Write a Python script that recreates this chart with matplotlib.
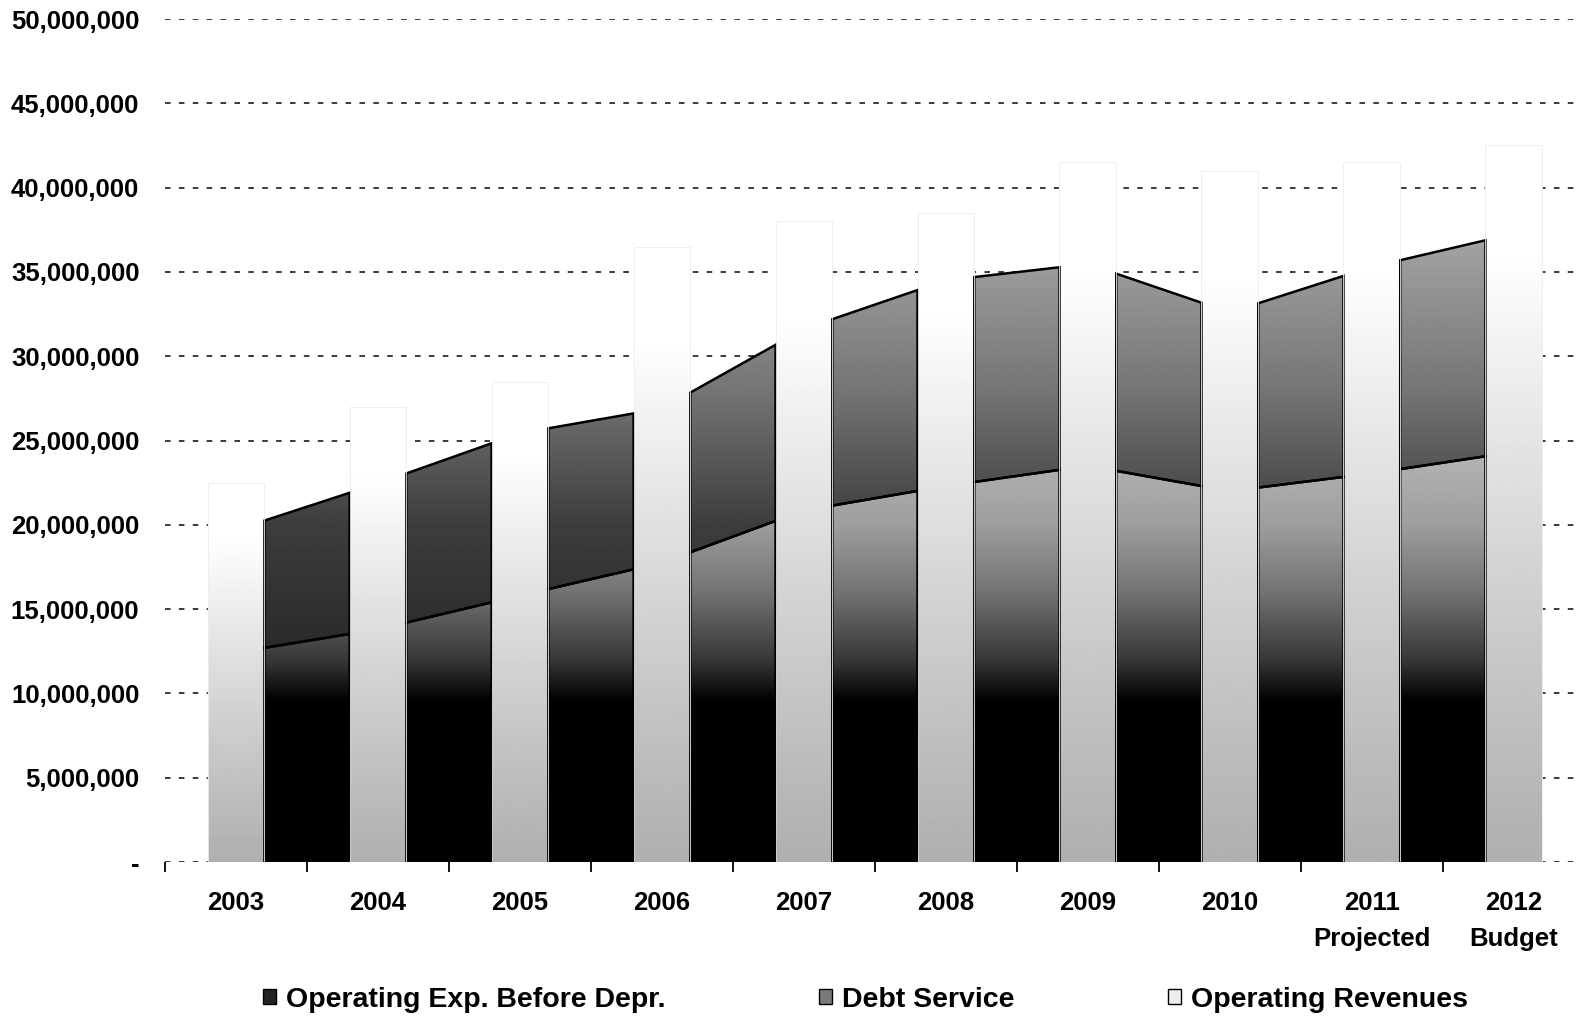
"""
Operating revenues vs. operating expenses and debt service, 2003-2012.
Expense layers are drawn in the gaps between the revenue columns,
all fills use vertical grey gradients.
"""

import numpy as np
import matplotlib
matplotlib.use("Agg")
import matplotlib.pyplot as plt
from matplotlib.patches import Polygon, Patch
from matplotlib.ticker import FixedLocator, FuncFormatter

# ══════════════════════════════════════════════════════════════════
#  DATA
# ══════════════════════════════════════════════════════════════════

YEAR_LABELS = ["2003", "2004", "2005", "2006", "2007", "2008", "2009",
               "2010", "2011\nProjected", "2012\nBudget"]

OPEX_BEFORE_DEPR = [12_430_000, 13_800_000, 15_800_000, 17_750_000, 20_850_000,
                    22_300_000, 23_500_000, 22_000_000, 23_050_000, 24_320_000]
DEBT_SERVICE     = [7_270_000, 8_650_000, 9_630_000, 9_150_000, 10_770_000,
                    12_200_000, 11_970_000, 10_600_000, 12_250_000, 12_950_000]
OPER_REVENUES    = [22_500_000, 27_000_000, 28_500_000, 36_500_000, 38_000_000,
                    38_500_000, 41_500_000, 41_000_000, 41_500_000, 42_500_000]

Y_TICKS = list(range(0, 50_000_001, 5_000_000))

# ══════════════════════════════════════════════════════════════════
#  STYLE
# ══════════════════════════════════════════════════════════════════

plt.rcParams["font.family"] = ["Liberation Sans", "DejaVu Sans"]
plt.rcParams["font.weight"] = "bold"
plt.rcParams["lines.scale_dashes"] = False

BAR_W     = 0.4
FS_TICK   = 18.5
FS_LEGEND = 20.5


def grey_opex(v):
    # black up to ~9.5M, then lightening towards the top of the layer
    return np.interp(v, [0, 9.5e6, 12e6, 16e6, 20e6, 25e6],
                     [0.0, 0.0, 0.22, 0.45, 0.62, 0.72])


def grey_debt(v):
    return np.interp(v, [10e6, 20e6, 28e6, 38e6],
                     [0.14, 0.24, 0.46, 0.66])


fig = plt.figure(figsize=(15.81, 10.17), dpi=100, facecolor="white")
ax = fig.add_axes([0.1044, 0.1524, 0.898, 0.8289])

x = np.arange(len(YEAR_LABELS))
opex = np.array(OPEX_BEFORE_DEPR, dtype=float)
total = opex + np.array(DEBT_SERVICE, dtype=float)

# gradient fields over the whole plot, clipped to each shape later
gy = np.linspace(0, 50e6, 600)
field_opex = np.tile(grey_opex(gy)[:, None], (1, 2))
field_debt = np.tile(grey_debt(gy)[:, None], (1, 2))
EXTENT = (-0.5, 9.5, 0, 50e6)

# ══════════════════════════════════════════════════════════════════
#  EXPENSE LAYERS (between the revenue columns)
# ══════════════════════════════════════════════════════════════════

for i in range(len(x) - 1):
    xs = np.array([x[i] + BAR_W / 2, x[i + 1] - BAR_W / 2])
    op = np.interp(xs, x, opex)
    tt = np.interp(xs, x, total)

    layers = [
        (Polygon([(xs[0], 0), (xs[1], 0), (xs[1], op[1]), (xs[0], op[0])]), field_opex),
        (Polygon([(xs[0], op[0]), (xs[1], op[1]), (xs[1], tt[1]), (xs[0], tt[0])]), field_debt),
    ]
    for poly, field in layers:
        poly.set_facecolor("none")
        poly.set_edgecolor("black")
        poly.set_linewidth(1.8)
        poly.set_zorder(4)
        ax.add_patch(poly)
        im = ax.imshow(field, extent=EXTENT, origin="lower", aspect="auto",
                       cmap="gray", vmin=0, vmax=1, interpolation="bilinear", zorder=3)
        im.set_clip_path(poly)

# ══════════════════════════════════════════════════════════════════
#  REVENUE COLUMNS (grey at the base, fading out to white)
# ══════════════════════════════════════════════════════════════════

bars = ax.bar(x, OPER_REVENUES, width=BAR_W, facecolor="none",
              edgecolor="#ededed", linewidth=0.6, zorder=4)
t = np.linspace(0, 1, 300)
col_grad = (0.69 + 0.31 * np.clip(t / 0.85, 0, 1) ** 1.1)[:, None]
for rect in bars:
    x0, w, h = rect.get_x(), rect.get_width(), rect.get_height()
    ax.imshow(col_grad, extent=(x0, x0 + w, 0, h), origin="lower", aspect="auto",
              cmap="gray", vmin=0, vmax=1, interpolation="bilinear", zorder=3)

# ══════════════════════════════════════════════════════════════════
#  AXES
# ══════════════════════════════════════════════════════════════════

ax.set_xlim(-0.5, 9.5)
ax.set_ylim(0, 50e6)
for s in ax.spines.values():
    s.set_visible(False)

ax.set_yticks(Y_TICKS)
ax.yaxis.set_major_formatter(FuncFormatter(lambda v, _: "-" if v == 0 else f"{v:,.0f}"))
ax.tick_params(axis="y", length=0, pad=18.5, labelsize=FS_TICK)
ax.grid(axis="y", color="#1a1a1a", linestyle=(0, (4.0, 6.0)), linewidth=1.2, zorder=0)
ax.set_axisbelow(True)

# tick marks between the years, labels on the year centres
ax.xaxis.set_major_locator(FixedLocator(np.arange(-0.5, 10, 1)))
ax.xaxis.set_major_formatter(FuncFormatter(lambda v, _: ""))
ax.xaxis.set_minor_locator(FixedLocator(x))
ax.set_xticklabels(YEAR_LABELS, minor=True, fontsize=FS_TICK, linespacing=1.6)
ax.tick_params(axis="x", which="major", length=7, width=1.3, direction="out")
ax.tick_params(axis="x", which="minor", length=0, pad=21)

handles = [
    Patch(facecolor="#222222", edgecolor="black", label="Operating Exp. Before Depr."),
    Patch(facecolor="#7a7a7a", edgecolor="black", label="Debt Service"),
    Patch(facecolor="#eeeeee", edgecolor="black", label="Operating Revenues"),
]
fig.legend(handles=handles, loc="center", bbox_to_anchor=(0.5475, 0.017), ncol=3,
           frameon=False, fontsize=FS_LEGEND, handlelength=0.45, handleheight=0.45,
           handletextpad=0.35, columnspacing=5.4)

fig.savefig("out.png", dpi=100, facecolor="white")
